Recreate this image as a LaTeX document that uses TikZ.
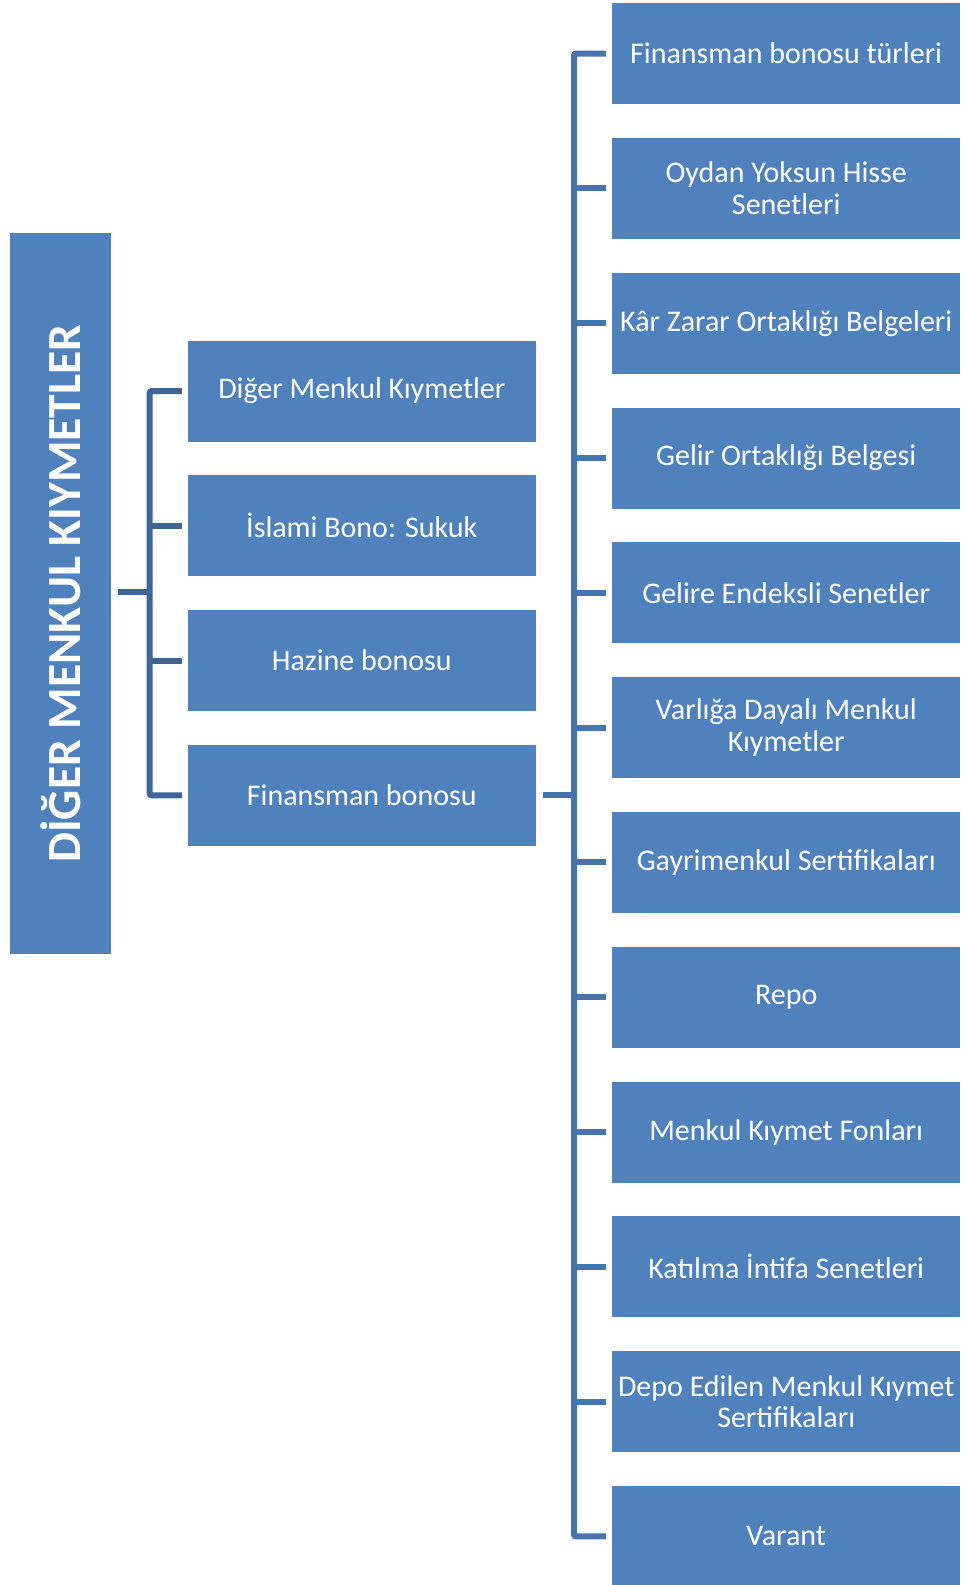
\documentclass[tikz,border=0pt]{standalone}
\usepackage{fontspec}
\setmainfont{Carlito}
\definecolor{boxblue}{HTML}{4F81BD}
\definecolor{linkblueL}{HTML}{3F6596}
\definecolor{linkblueR}{HTML}{4674AC}
\tikzset{
  box/.style={fill=boxblue, text=white, minimum width=347.6pt, minimum height=101pt,
    inner sep=0pt, align=center, font=\fontsize{30}{31.5}\selectfont},
  link/.style={line width=6pt, rounded corners=2pt}
}
\begin{document}
\begin{tikzpicture}[x=1pt,y=-1pt]
\useasboundingbox (0,0) rectangle (966,1585);

% left title
\node[fill=boxblue, minimum width=101pt, minimum height=720.5pt, inner sep=0pt] (title) at (60.6,593.7) {};
\node[rotate=90, text=white, font=\fontsize{47.5}{50}\selectfont\bfseries] (titletext) at (title.center) {DİĞER MENKUL KIYMETLER};

% middle column
\node[box] (m1) at (361.8,391.1) {Diğer Menkul Kıymetler};
\node[box] (m2) at (361.8,525.8) {İslami Bono: Sukuk};
\node[box] (m3) at (361.8,660.5) {Hazine bonosu};
\node[box] (m4) at (361.8,795.3) {Finansman bonosu};

% right column
\foreach \i/\txt in {1/Finansman bonosu türleri,
                     2/{Oydan Yoksun Hisse\\Senetleri},
                     3/Kâr Zarar Ortaklığı Belgeleri,
                     4/Gelir Ortaklığı Belgesi,
                     5/Gelire Endeksli Senetler,
                     6/{Varlığa Dayalı Menkul\\Kıymetler},
                     7/Gayrimenkul Sertifikaları,
                     8/Repo,
                     9/Menkul Kıymet Fonları,
                     10/Katılma İntifa Senetleri,
                     11/{Depo Edilen Menkul Kıymet\\Sertifikaları},
                     12/Varant} {
  \node[box] (r\i) at (786.2,{53.6+134.8*(\i-1)}) {\txt};
}

% left connector
\coordinate (hubL) at (149.6,592.2);
\draw[link, linkblueL] ([xshift=7pt]title.east |- hubL) -- (hubL);
\draw[link, linkblueL] ([xshift=-6pt]m1.west) -| (hubL) |- ([xshift=-6pt]m4.west);
\draw[link, linkblueL] (hubL |- m2.west) -- ([xshift=-6pt]m2.west);
\draw[link, linkblueL] (hubL |- m3.west) -- ([xshift=-6pt]m3.west);

% right connector
\coordinate (hubR) at (574,795.3);
\draw[link, linkblueR] ([xshift=7pt]m4.east) -- (hubR);
\draw[link, linkblueR] ([xshift=-6pt]r1.west) -| (hubR) |- ([xshift=-6pt]r12.west);
\foreach \i in {2,...,11} {
  \draw[link, linkblueR] (hubR |- r\i.west) -- ([xshift=-6pt]r\i.west);
}

\end{tikzpicture}
\end{document}
